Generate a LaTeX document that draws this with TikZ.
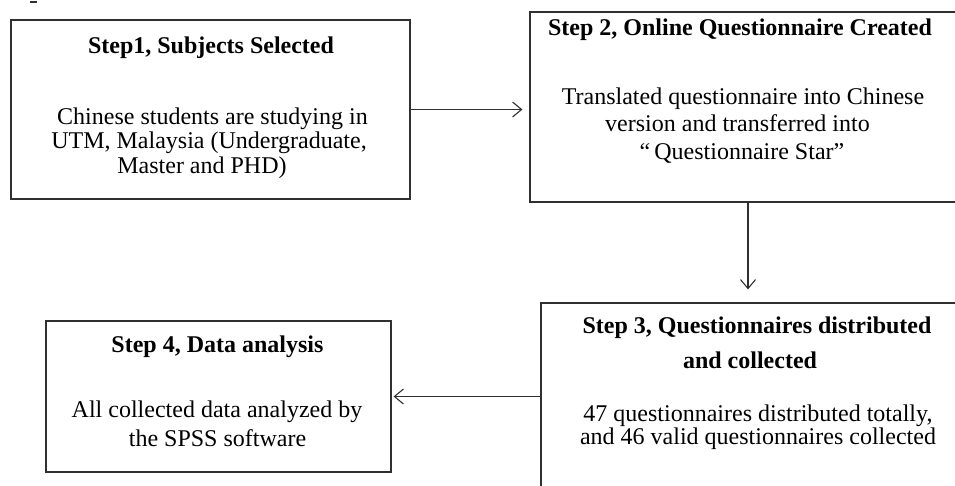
\documentclass[tikz,border=0pt]{standalone}
\usepackage{fontspec}
\setmainfont{Liberation Serif}
\usetikzlibrary{arrows.meta}
\definecolor{linegray}{HTML}{303030}
\tikzset{
  stepbox/.style={draw=linegray, line width=1.2pt, rectangle, inner sep=0pt},
  ttl/.style={anchor=base, inner sep=0pt, font=\fontsize{24}{28}\selectfont\bfseries},
  bdy/.style={anchor=base, inner sep=0pt, font=\fontsize{24}{28}\selectfont},
  conn/.style={draw=linegray, line width=1.1pt, -{Straight Barb[length=9pt,width=15pt,line width=1.1pt]}}
}
\begin{document}
\begin{tikzpicture}[x=1pt,y=-1pt]
\useasboundingbox (0,0) rectangle (955,485);
\clip (0,0) rectangle (955,485);
% small mark at top left
\draw[linegray, line width=1.2pt] (30,2) -- (37,2);
% boxes
\node[stepbox, minimum width=399pt, minimum height=179pt] (b1) at (210.5,109.5) {};
\node[stepbox, minimum width=432pt, minimum height=190pt] (b2) at (746,107) {};
\node[stepbox, minimum width=430pt, minimum height=200pt] (b3) at (756,403) {};
\node[stepbox, minimum width=345pt, minimum height=151pt] (b4) at (218.5,396.5) {};
% box 1 text
\node[ttl] (t1a) at (211,53) {Step1, Subjects Selected};
\node[bdy] (t1b) at (212.5,124) {Chinese students are studying in};
\node[bdy] (t1c) at (209,148.5) {UTM, Malaysia (Undergraduate,};
\node[bdy] (t1d) at (202,173) {Master and PHD)};
% box 2 text
\node[ttl] (t2a) at (740,35) {Step 2, Online Questionnaire Created};
\node[bdy] (t2b) at (743,104) {Translated questionnaire into Chinese};
\node[bdy] (t2c) at (737.5,131.5) {version and transferred into};
\node[bdy] (t2d) at (742,159) {“\,Questionnaire Star”};
% box 3 text
\node[ttl] (t3a) at (757,333) {Step 3, Questionnaires distributed};
\node[ttl] (t3b) at (750,368) {and collected};
\node[bdy] (t3c) at (758,421) {47 questionnaires distributed totally,};
\node[bdy] (t3d) at (758,444.5) {and 46 valid questionnaires collected};
% box 4 text
\node[ttl] (t4a) at (217.5,352) {Step 4, Data analysis};
\node[bdy] (t4b) at (217,417) {All collected data analyzed by};
\node[bdy] (t4c) at (217.5,446) {the SPSS software};
% connectors
\draw[conn, shorten >=7pt] (b1.east) -- (b1.east -| b2.west);
\draw[conn, shorten >=13pt] (b2.south -| 748,0) -- (b3.north -| 748,0);
\draw[conn, shorten >=2pt] (b4.east -| b3.west) -- (b4.east);
\end{tikzpicture}
\end{document}
